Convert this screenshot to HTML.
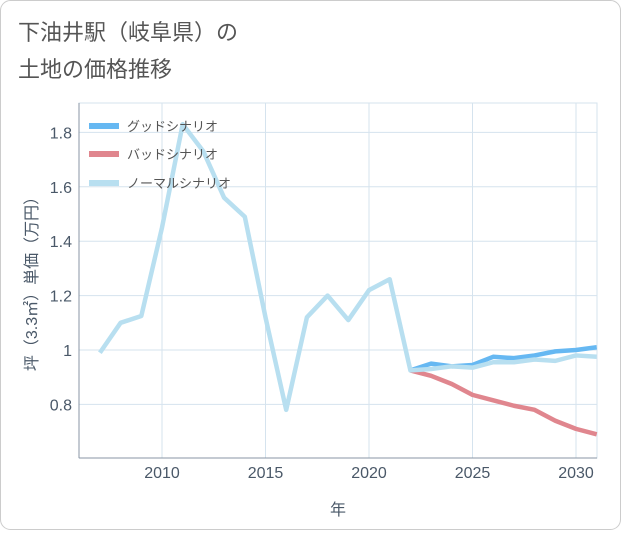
<!DOCTYPE html>
<html><head><meta charset="utf-8"><style>
body{margin:0;background:#fff;font-family:"Liberation Sans","Noto Sans CJK JP",sans-serif;}
</style></head><body>
<svg width="621" height="530" xmlns="http://www.w3.org/2000/svg">
<rect x="0.5" y="0.5" width="620" height="529" rx="10" fill="#fff" stroke="#ccc"/>
<text x="18" y="40" font-size="22" fill="#555">下油井駅（岐阜県）の</text>
<text x="18" y="77" font-size="22" fill="#555">土地の価格推移</text>
<g id="grid"></g>
<line x1="79" y1="103" x2="79" y2="458" stroke="#8896a4"/>
<line x1="79" y1="458" x2="597" y2="458" stroke="#8896a4"/>
<g id="series"></g>
<g id="ticks" font-size="16" fill="#4a5868"></g>
<text x="338" y="515" font-size="16" fill="#4a5868" text-anchor="middle">年</text>
<text transform="translate(37,280) rotate(-90)" font-size="16" fill="#4a5868" text-anchor="middle">坪（3.3㎡）単価（万円）</text>
<g id="legend" font-size="13" fill="#555"></g>
</svg>
<script>
const years=[2007,2008,2009,2010,2011,2012,2013,2014,2015,2016,2017,2018,2019,2020,2021,2022,2023,2024,2025,2026,2027,2028,2029,2030,2031];
const normal=[0.99,1.10,1.125,1.45,1.83,1.73,1.56,1.49,1.12,0.78,1.12,1.20,1.11,1.22,1.26,0.925,0.93,0.94,0.935,0.955,0.955,0.965,0.96,0.98,0.975];
const goodYears=[2022,2023,2024,2025,2026,2027,2028,2029,2030,2031];
const good=[0.925,0.95,0.94,0.945,0.975,0.97,0.98,0.995,1.0,1.01];
const bad=[0.925,0.905,0.875,0.835,0.815,0.795,0.78,0.74,0.71,0.69];
const xTicks=[2010,2015,2020,2025,2030];
const yTicks=[0.8,1,1.2,1.4,1.6,1.8];
const yTickLabels=["0.8","1","1.2","1.4","1.6","1.8"];
const NS="http://www.w3.org/2000/svg";
const X=v=>162+(v-2010)*20.7;
const Y=v=>350-(v-1)*272;
function mk(t,a,p){const e=document.createElementNS(NS,t);for(const k in a)e.setAttribute(k,a[k]);p.appendChild(e);return e;}
const grid=document.getElementById('grid'),ticks=document.getElementById('ticks');
mk('rect',{x:79,y:103,width:518,height:355,fill:'none',stroke:'#d5e3ee'},grid);
xTicks.forEach(t=>{
 const l=mk('line',{x1:X(t),x2:X(t),y1:103,y2:458,stroke:'#d5e3ee'},grid);
 
 
 const tx=mk('text',{x:X(t),y:478,'text-anchor':'middle'},ticks);tx.textContent=t;
 
 
});
yTicks.forEach((t,i)=>{
 const l=mk('line',{x1:79,x2:597,y1:Y(t),y2:Y(t),stroke:'#d5e3ee'},grid);
 
 
 const tx=mk('text',{x:72,y:Y(t)+6,'text-anchor':'end'},ticks);tx.textContent=yTickLabels[i];
 
 
});
const sg=document.getElementById('series');
function line(xs,vs,c,name){
 const p=mk('polyline',{points:xs.map((x,i)=>X(x)+','+Y(vs[i])).join(' '),fill:'none',stroke:c,'stroke-width':4.5,'stroke-linejoin':'round'},sg);
 
 
}
line(goodYears,bad,'#e0868e','bad-scenario-line');
line(goodYears,good,'#66b8f2','good-scenario-line');
line(years,normal,'#b8dff0','normal-scenario-line');
const lg=document.getElementById('legend');
[['グッドシナリオ','#66b8f2',126],['バッドシナリオ','#e0868e',154],['ノーマルシナリオ','#b8dff0',183]].forEach(([t,c,y],i)=>{
 const r=mk('rect',{x:89,y:y-3,width:30,height:6,fill:c},lg);
 
 
 const tx=mk('text',{x:127,y:y+5},lg);tx.textContent=t;
 
 
});
</script>
</body></html>
